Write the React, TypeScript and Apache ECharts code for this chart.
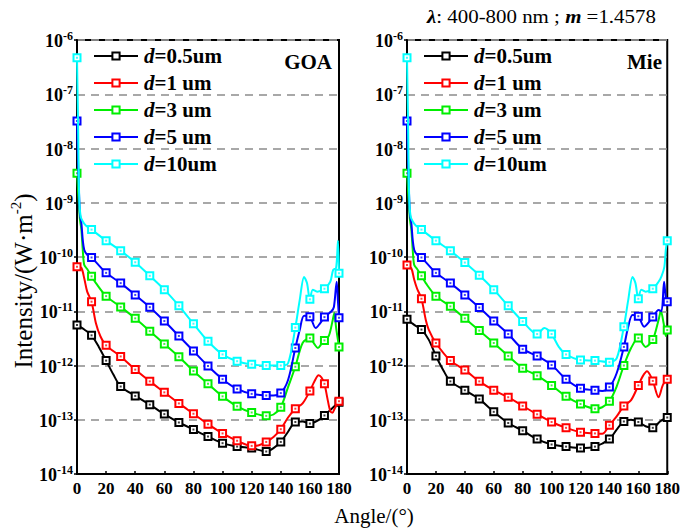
import React, { useEffect, useRef } from 'react';
import * as echarts from 'echarts';

const FONT = "'Liberation Serif', 'Times New Roman', serif";

const NAMES = ['d=0.5um', 'd=1 um', 'd=3 um', 'd=5 um', 'd=10um'];
const COLORS = ['#000000', '#ff0000', '#00ee00', '#0000ff', '#00ffff'];
const PANEL_LABELS = ['GOA', 'Mie'];
const X_MIN = 0;
const X_MAX = 180;
const X_STEP = 20;
const Y_MIN = 1e-14;
const Y_MAX = 1e-6;

// ---- GOA panel (angle in degrees, intensity in W·m^-2) ----
const goaD05: [number, number][] = [
  [0, 5.6e-12], [5, 4.6e-12], [10, 3.6e-12], [15, 2.2e-12], [20, 1.23e-12], [25, 6.8e-13], [30, 4.1e-13],
  [40, 2.75e-13], [50, 1.9e-13], [60, 1.27e-13], [70, 8.9e-14], [80, 6.6e-14], [90, 4.9e-14], [100, 3.7e-14],
  [110, 3.2e-14], [120, 3.0e-14], [130, 2.6e-14], [135, 3.0e-14], [140, 3.9e-14], [145, 6.0e-14], [150, 9.1e-14],
  [155, 9.3e-14], [160, 8.5e-14], [165, 9.5e-14], [170, 1.2e-13], [175, 1.6e-13], [180, 2.1e-13],
];
const goaD1: [number, number][] = [
  [0, 6.6e-11], [3, 6.3e-11], [5, 4.0e-11], [7, 2.3e-11], [10, 1.5e-11], [13, 6.0e-12], [16, 3.5e-12], [20, 2.35e-12],
  [30, 1.47e-12], [40, 8.4e-13], [50, 5.1e-13], [60, 3.2e-13], [70, 2.0e-13], [80, 1.29e-13], [90, 8.3e-14],
  [100, 5.6e-14], [110, 4.1e-14], [120, 3.3e-14], [125, 3.4e-14], [130, 3.9e-14], [135, 4.8e-14], [140, 6.7e-14],
  [145, 1.1e-13], [150, 1.6e-13], [155, 2.0e-13], [160, 3.4e-13], [163, 5.0e-13], [166, 6.6e-13], [168, 6.0e-13],
  [170, 4.6e-13], [172, 2.5e-13], [174, 1.45e-13], [175.5, 1.35e-13], [177, 1.6e-13], [178.5, 1.9e-13], [180, 2.2e-13],
];
const goaD3: [number, number][] = [
  [0, 3.5e-9], [1, 1.3e-9], [2, 5.0e-10], [3, 3.2e-10], [4, 1.3e-10], [5, 7.1e-11], [7, 6.0e-11], [10, 4.4e-11],
  [13, 3.3e-11], [20, 1.9e-11], [30, 1.2e-11], [40, 7.4e-12], [50, 4.3e-12], [60, 2.5e-12], [70, 1.45e-12],
  [80, 7.9e-13], [90, 4.6e-13], [100, 2.7e-13], [110, 1.77e-13], [120, 1.36e-13], [130, 1.18e-13], [135, 1.25e-13],
  [140, 1.7e-13], [145, 4.0e-13], [150, 9.5e-13], [155, 2.6e-12], [160, 3.2e-12], [163, 2.5e-12], [165.5, 2.1e-12],
  [168, 2.5e-12], [170, 2.9e-12], [173, 3.5e-12], [175.7, 6.9e-12], [176.8, 9.3e-12], [178, 5.0e-12], [180, 2.2e-12],
];
const goaD5: [number, number][] = [
  [0, 3.2e-8], [1, 3.2e-9], [2, 6.3e-10], [3, 4.2e-10], [4, 2.0e-10], [5, 1.35e-10], [7, 1.1e-10], [10, 9.8e-11],
  [20, 5.1e-11], [30, 3.3e-11], [40, 2.0e-11], [50, 1.19e-11], [60, 6.6e-12], [70, 3.5e-12], [80, 1.85e-12],
  [90, 9.8e-13], [100, 5.6e-13], [110, 3.7e-13], [120, 3.0e-13], [130, 2.8e-13], [135, 2.8e-13], [140, 3.1e-13],
  [145, 5.4e-13], [150, 2.1e-12], [153, 4.5e-12], [156, 8.3e-12], [160, 7.9e-12], [164, 4.9e-12], [167, 6.0e-12],
  [170, 7.8e-12], [174.8, 1.0e-11], [176.5, 1.2e-11], [178.4, 3.5e-11], [179.3, 1.5e-11], [180, 7.6e-12],
];
const goaD10: [number, number][] = [
  [0, 4.7e-7], [0.7, 3.2e-8], [1.5, 1.3e-9], [2.5, 5.6e-10], [4, 4.5e-10], [6, 3.8e-10], [10, 3.2e-10],
  [20, 2.0e-10], [30, 1.3e-10], [40, 8.0e-11], [50, 4.5e-11], [60, 2.5e-11], [70, 1.26e-11], [80, 5.9e-12],
  [90, 2.8e-12], [100, 1.6e-12], [110, 1.2e-12], [120, 1.05e-12], [130, 1.0e-12], [140, 1.0e-12], [145, 1.1e-12],
  [150, 5.0e-12], [153, 1.6e-11], [156, 4.3e-11], [158, 3.3e-11], [160, 1.66e-11], [162, 2.5e-11], [165, 2.3e-11],
  [170, 2.6e-11], [174, 3.5e-11], [176, 5.8e-11], [178, 6.3e-11], [179.3, 2.0e-10], [180, 5.0e-11],
];

// ---- Mie panel ----
const mieD05: [number, number][] = [
  [0, 7.1e-12], [5, 5.6e-12], [10, 4.6e-12], [15, 3.0e-12], [20, 1.5e-12], [25, 8.3e-13], [30, 5.1e-13],
  [40, 3.5e-13], [50, 2.4e-13], [60, 1.4e-13], [70, 8.7e-14], [80, 6.3e-14], [90, 4.4e-14], [100, 3.5e-14],
  [110, 3.2e-14], [120, 3.0e-14], [130, 3.2e-14], [140, 4.4e-14], [145, 6.6e-14], [150, 9.3e-14], [155, 1.0e-13],
  [160, 9.1e-14], [165, 7.6e-14], [170, 7.1e-14], [175, 9.3e-14], [180, 1.1e-13],
];
const mieD1: [number, number][] = [
  [0, 7.1e-11], [3, 6.2e-11], [5, 3.8e-11], [7, 2.6e-11], [10, 1.7e-11], [13, 6.9e-12], [15, 4.6e-12], [20, 2.6e-12],
  [30, 1.23e-12], [40, 8.3e-13], [50, 5.1e-13], [60, 3.5e-13], [70, 2.6e-13], [80, 1.8e-13], [90, 1.26e-13],
  [100, 9.1e-14], [110, 7.1e-14], [120, 5.9e-14], [130, 5.6e-14], [135, 5.5e-14], [140, 7.9e-14], [145, 1.15e-13],
  [150, 1.8e-13], [155, 2.3e-13], [160, 4.3e-13], [163, 6.3e-13], [166, 7.8e-13], [170, 5.2e-13], [174, 2.6e-13],
  [177, 4.4e-13], [180, 5.6e-13],
];
const mieD3: [number, number][] = [
  [0, 3.5e-9], [1, 1.3e-9], [2, 5.0e-10], [3, 3.2e-10], [4, 1.3e-10], [5, 7.1e-11], [7, 6.0e-11], [10, 4.5e-11],
  [13, 3.3e-11], [20, 1.9e-11], [30, 1.23e-11], [40, 7.4e-12], [50, 4.4e-12], [60, 2.6e-12], [70, 1.5e-12],
  [80, 8.9e-13], [90, 6.5e-13], [100, 4.3e-13], [110, 2.7e-13], [120, 1.95e-13], [130, 1.6e-13], [135, 1.7e-13],
  [140, 2.2e-13], [145, 4.1e-13], [150, 1.0e-12], [155, 2.1e-12], [160, 3.2e-12], [165, 2.2e-12], [170, 3.0e-12],
  [174, 6.9e-12], [175.6, 1.0e-11], [177.5, 6.0e-12], [179, 3.5e-12], [180, 4.5e-12],
];
const mieD5: [number, number][] = [
  [0, 3.2e-8], [1, 3.2e-9], [2, 6.3e-10], [3, 4.2e-10], [4, 2.0e-10], [5, 1.35e-10], [7, 1.1e-10], [10, 9.8e-11],
  [20, 5.1e-11], [30, 3.3e-11], [40, 2.0e-11], [50, 1.17e-11], [60, 6.6e-12], [70, 3.8e-12], [80, 2.0e-12],
  [90, 1.5e-12], [100, 1.02e-12], [110, 5.6e-13], [120, 3.8e-13], [130, 3.5e-13], [135, 3.4e-13], [140, 4.0e-13],
  [145, 7.2e-13], [150, 2.2e-12], [153, 5.2e-12], [156, 8.5e-12], [160, 8.1e-12], [164, 5.2e-12], [170, 7.8e-12],
  [174, 1.05e-11], [176, 1.0e-11], [177.8, 3.5e-11], [179, 1.8e-11], [180, 1.5e-11],
];
const mieD10: [number, number][] = [
  [0, 4.7e-7], [0.7, 3.2e-8], [1.5, 1.3e-9], [2.5, 5.6e-10], [4, 4.5e-10], [6, 3.8e-10], [10, 3.2e-10],
  [20, 2.0e-10], [30, 1.3e-10], [40, 7.9e-11], [50, 4.6e-11], [60, 2.5e-11], [70, 1.26e-11], [80, 6.5e-12],
  [90, 3.8e-12], [95, 4.9e-12], [100, 3.8e-12], [105, 2.2e-12], [110, 1.6e-12], [120, 1.26e-12], [130, 1.23e-12],
  [140, 1.15e-12], [145, 1.35e-12], [150, 5.2e-12], [153, 1.6e-11], [156, 4.3e-11], [158, 3.3e-11], [160, 1.7e-11],
  [162, 2.5e-11], [165, 2.3e-11], [170, 2.6e-11], [174, 3.5e-11], [176, 4.4e-11], [178, 6.6e-11], [179, 1.35e-10],
  [180, 2.0e-10],
];

const PANELS = [
  [goaD05, goaD1, goaD3, goaD5, goaD10],
  [mieD05, mieD1, mieD3, mieD5, mieD10],
];

const GRIDS = [
  { left: 77, top: 40, width: 262, height: 434 },
  { left: 407, top: 40, width: 261, height: 434 },
];

const tickRich = {
  b: { fontFamily: FONT, fontWeight: 'bold', fontSize: 18, color: '#000', lineHeight: 20, verticalAlign: 'bottom' },
  s: { fontFamily: FONT, fontWeight: 'bold', fontSize: 12, color: '#000', lineHeight: 20, verticalAlign: 'top' },
};

export default function App() {
  const ref = useRef<HTMLDivElement>(null);

  useEffect(() => {
    if (!ref.current) return;
    const chart = echarts.init(ref.current, undefined, { renderer: 'svg' });

    const series: any[] = [];
    PANELS.forEach((panel, gi) => {
      panel.forEach((pts, si) => {
        series.push({
          type: 'line',
          name: NAMES[si],
          xAxisIndex: gi,
          yAxisIndex: gi,
          smooth: 0.3,
          symbol: 'emptyRect',
          symbolSize: 7,
          showSymbol: true,
          lineStyle: { width: 2, color: COLORS[si] },
          itemStyle: { color: COLORS[si], borderWidth: 1.5 },
          z: 3 + si,
          data: pts.map(([x, y]) => (x % 10 === 0 ? [x, y] : { value: [x, y], symbol: 'none' })),
        });
        // small centre dot of each hollow square marker
        series.push({
          type: 'scatter',
          name: 'dot',
          xAxisIndex: gi,
          yAxisIndex: gi,
          symbol: 'rect',
          symbolSize: 2,
          silent: true,
          itemStyle: { color: COLORS[si], opacity: 0.75 },
          z: 3 + si,
          data: pts.filter(([x]) => x % 10 === 0),
        });
      });
    });

    const legendRich = {
      i: { fontFamily: FONT, fontSize: 21, fontWeight: 'bold', fontStyle: 'italic', color: '#000', padding: [0, 0, 0, 1] },
      b: { fontFamily: FONT, fontSize: 21, fontWeight: 'bold', color: '#000' },
    };
    const mkLegend = (left: number) => ({
      orient: 'vertical',
      left,
      top: 40,
      itemWidth: 44,
      itemHeight: 9,
      itemGap: 5,
      selectedMode: false,
      data: NAMES,
      formatter: (n: string) => `{i|d}{b|${n.slice(1)}}`,
      textStyle: { fontFamily: FONT, fontSize: 21, fontWeight: 'bold', color: '#000', lineHeight: 22, rich: legendRich },
    });

    const option: any = {
      animation: false,
      backgroundColor: '#fff',
      grid: GRIDS.map((g) => ({ ...g, show: true, borderColor: '#000', borderWidth: 2, backgroundColor: 'transparent' })),
      legend: [mkLegend(88), mkLegend(418)],
      xAxis: GRIDS.map((_, gi) => ({
        type: 'value',
        gridIndex: gi,
        min: X_MIN,
        max: X_MAX,
        interval: X_STEP,
        axisLine: { show: true, lineStyle: { color: '#000', width: 2 } },
        axisTick: { show: true, inside: true, length: 3, lineStyle: { color: '#000', width: 1.5 } },
        splitLine: { show: false },
        axisLabel: { margin: 6, fontFamily: FONT, fontWeight: 'bold', fontSize: 17, color: '#000' },
      })),
      yAxis: GRIDS.map((_, gi) => ({
        type: 'log',
        logBase: 10,
        gridIndex: gi,
        min: Y_MIN,
        max: Y_MAX,
        axisLine: { show: true, lineStyle: { color: '#000', width: 2 } },
        axisTick: { show: true, inside: false, length: 3, lineStyle: { color: '#000', width: 1.5 } },
        splitLine: { show: true, lineStyle: { color: '#8c8c8c', width: 1.5, type: [8, 6] } },
        axisLabel: {
          margin: 4,
          formatter: (v: number) => `{b|10}{s|${Math.round(Math.log10(v))}}`,
          rich: tickRich,
        },
      })),
      graphic: [
        {
          type: 'text',
          x: 427,
          y: 16,
          scaleX: 1.1,
          style: {
            text: '{bi|λ}{r|: 400-800 nm ; }{bi|m}{r| =1.4578}',
            align: 'left',
            verticalAlign: 'middle',
            textAlign: 'left',
            textVerticalAlign: 'middle',
            rich: {
              bi: { fontFamily: FONT, fontSize: 19, fontWeight: 'bold', fontStyle: 'italic', fill: '#000' },
              r: { fontFamily: FONT, fontSize: 19, fill: '#000' },
            },
          },
        },
        {
          type: 'text',
          right: 683 - 332,
          top: 51,
          style: { text: PANEL_LABELS[0], font: `bold 21px ${FONT}`, fill: '#000' },
        },
        {
          type: 'text',
          right: 683 - 662,
          top: 51,
          style: { text: PANEL_LABELS[1], font: `bold 21px ${FONT}`, fill: '#000' },
        },
        {
          type: 'text',
          x: 22,
          y: 281,
          rotation: Math.PI / 2,
          style: {
            text: '{a|Intensity/(W·m}{s|-2}{a|)}',
            align: 'center',
            verticalAlign: 'middle',
            textAlign: 'center',
            textVerticalAlign: 'middle',
            rich: {
              a: { fontFamily: FONT, fontSize: 25, fill: '#000', lineHeight: 28, verticalAlign: 'bottom' },
              s: { fontFamily: FONT, fontSize: 15, fill: '#000', lineHeight: 28, verticalAlign: 'top' },
            },
          },
        },
        {
          type: 'text',
          x: 374,
          y: 516,
          style: {
            text: 'Angle/(°)',
            font: `21px ${FONT}`,
            fill: '#000',
            align: 'center',
            verticalAlign: 'middle',
            textAlign: 'center',
            textVerticalAlign: 'middle',
          },
        },
      ],
      series,
    };

    chart.setOption(option);
    return () => chart.dispose();
  }, []);

  return <div ref={ref} style={{ position: 'absolute', left: 0, top: 0, width: 683, height: 531 }} />;
}
